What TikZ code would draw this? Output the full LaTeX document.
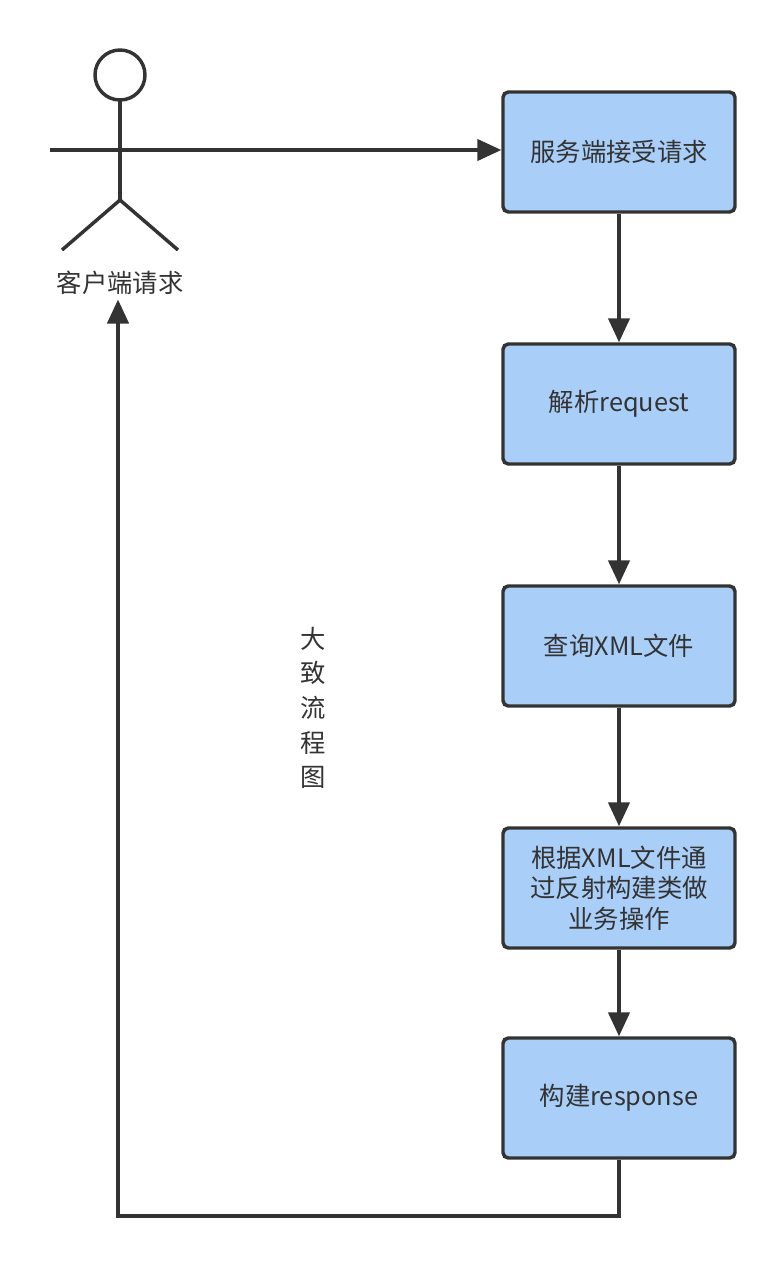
\documentclass[tikz,border=0pt]{standalone}
\usepackage{fontspec}
\setmainfont{Noto Sans CJK SC}
\usetikzlibrary{arrows.meta}
\definecolor{boxfill}{HTML}{A9CEF8}
\definecolor{ink}{HTML}{333333}
\tikzset{
  stepbox/.style={draw=ink, line width=2.6pt, fill=boxfill, rounded corners=4pt, minimum width=174pt, minimum height=90pt, align=center, font=\fontsize{19}{23}\selectfont, text=ink, inner sep=2pt},
  conn/.style={draw=ink, line width=2.6pt, -{Triangle[length=18pt,width=16pt]}},
  lbl/.style={text=ink, font=\fontsize{19}{23}\selectfont}
}
\begin{document}
\begin{tikzpicture}[x=0.75pt,y=-0.75pt]
\useasboundingbox (0,0) rectangle (784,1266);
\node[stepbox] (b1) at (619,152) {服务端接受请求};
\node[stepbox] (b2) at (619,404) {解析request};
\node[stepbox] (b3) at (619,646) {查询XML文件};
\node[stepbox] (b4) at (619,888) {根据XML文件通\\过反射构建类做\\业务操作};
\node[stepbox] (b5) at (619,1098) {构建response};
% actor
\draw[ink, line width=2.6pt] (120,75) circle (25);
\coordinate (neck) at (120,100);
\coordinate (hip) at (120,200);
\draw[ink, line width=2.6pt] (neck) -- (hip);
\draw[ink, line width=2.6pt] (62,250) -- (hip) -- (178,250);
\node[lbl] (actor) at (120,283) {客户端请求};
\coordinate (armL) at (50,150);
\draw[conn] (armL) -- (armL -| b1.west);
\draw[conn] (b1) -- (b2);
\draw[conn] (b2) -- (b3);
\draw[conn] (b3) -- (b4);
\draw[conn] (b4) -- (b5);
\coordinate (c1) at (619,1216);
\coordinate (c2) at (118,1216);
\draw[conn] (b5.south) -- (c1) -- (c2) -- (actor.south -| c2);
\node[lbl, align=center, font=\fontsize{19}{26}\selectfont] (title) at (313,708) {大\\致\\流\\程\\图};
\end{tikzpicture}
\end{document}
